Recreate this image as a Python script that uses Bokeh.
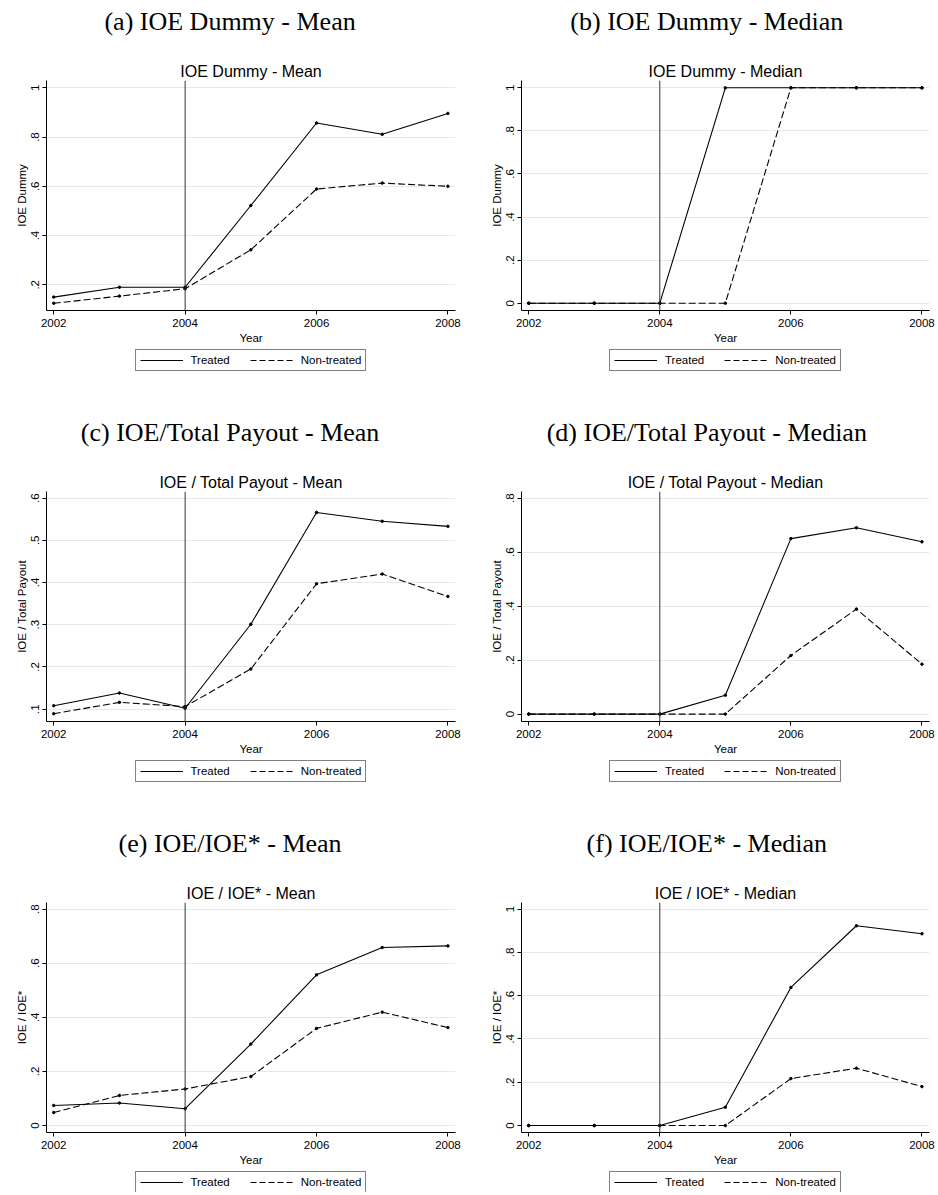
from bokeh.plotting import figure
from bokeh.layouts import row, column
from bokeh.models import Title, Legend, LegendItem, FixedTicker, Range1d, Span, Label
from bokeh.embed import file_html
from bokeh.resources import INLINE

# ---------------- data ----------------
years = [2002, 2003, 2004, 2005, 2006, 2007, 2008]
event_year = 2004
x_ticks = [2002, 2004, 2006, 2008]

captions = ["(a) IOE Dummy - Mean", "(b) IOE Dummy - Median",
            "(c) IOE/Total Payout - Mean", "(d) IOE/Total Payout - Median",
            "(e) IOE/IOE* - Mean", "(f) IOE/IOE* - Median"]
titles = ["IOE Dummy - Mean", "IOE Dummy - Median",
          "IOE / Total Payout - Mean", "IOE / Total Payout - Median",
          "IOE / IOE* - Mean", "IOE / IOE* - Median"]
ylabels = ["IOE Dummy", "IOE Dummy", "IOE / Total Payout", "IOE / Total Payout",
           "IOE / IOE*", "IOE / IOE*"]
series_names = ["Treated", "Non-treated"]

a_treated = [0.150, 0.190, 0.190, 0.522, 0.857, 0.811, 0.896]
a_non = [0.125, 0.154, 0.184, 0.342, 0.589, 0.613, 0.600]
b_treated = [0, 0, 0, 1, 1, 1, 1]
b_non = [0, 0, 0, 0, 1, 1, 1]
c_treated = [0.108, 0.138, 0.102, 0.301, 0.566, 0.545, 0.533]
c_non = [0.089, 0.116, 0.106, 0.195, 0.397, 0.420, 0.367]
d_treated = [0, 0, 0, 0.070, 0.650, 0.690, 0.638]
d_non = [0, 0, 0, 0, 0.217, 0.389, 0.185]
e_treated = [0.074, 0.083, 0.062, 0.301, 0.557, 0.658, 0.664]
e_non = [0.048, 0.111, 0.135, 0.181, 0.359, 0.419, 0.362]
f_treated = [0, 0, 0, 0.085, 0.638, 0.923, 0.886]
f_non = [0, 0, 0, 0, 0.217, 0.265, 0.180]

ticks_a = [0.2, 0.4, 0.6, 0.8, 1]
labels_a = [".2", ".4", ".6", ".8", "1"]
ticks_b = [0, 0.2, 0.4, 0.6, 0.8, 1]
labels_b = ["0", ".2", ".4", ".6", ".8", "1"]
ticks_c = [0.1, 0.2, 0.3, 0.4, 0.5, 0.6]
labels_c = [".1", ".2", ".3", ".4", ".5", ".6"]
ticks_d = [0, 0.2, 0.4, 0.6, 0.8]
labels_d = ["0", ".2", ".4", ".6", ".8"]

yr_a = (0.0956, 1.0296)
yr_b = (-0.034, 1.034)
yr_c = (0.0706, 0.6156)
yr_d = (-0.0274, 0.8244)
yr_e = (-0.0259, 0.8244)
yr_f = (-0.032, 1.0305)

SANS = "Liberation Sans"
SERIF = "Liberation Serif"
FS = "11.5px"

COL_W = 469
CAP_H = 46
TOP, FRAME_H, BOTTOM = 34, 230, 38
MAIN_H = TOP + FRAME_H + BOTTOM


def strip(height, left=0, right=0):
    s = figure(width=COL_W, height=height, output_backend="svg",
               toolbar_location=None, x_axis_location=None, y_axis_location=None,
               x_range=Range1d(0, COL_W - left - right), y_range=Range1d(0, height),
               min_border_left=left, min_border_right=right,
               min_border_top=0, min_border_bottom=0)
    s.outline_line_color = None
    s.xgrid.visible = False
    s.ygrid.visible = False
    s.background_fill_color = "white"
    s.border_fill_color = "white"
    return s


def panel(i, treated, non, yticks, ylabs, yr, left, right, cap_x, leg_h):
    # caption strip
    cap = strip(CAP_H)
    cap.add_layout(Label(x=cap_x, y=CAP_H - 21, text=captions[i],
                         text_font=SERIF, text_font_size="26px",
                         text_color="black", text_align="center",
                         text_baseline="middle"))

    # main plot
    p = figure(width=COL_W, height=MAIN_H, output_backend="svg",
               toolbar_location=None,
               x_range=Range1d(2001.89, 2008.115), y_range=Range1d(*yr),
               min_border_left=left, min_border_right=right,
               min_border_top=TOP, min_border_bottom=BOTTOM)
    p.outline_line_color = None
    p.background_fill_color = "white"
    p.border_fill_color = "white"

    p.add_layout(Title(text=titles[i], align="center", text_font=SANS,
                       text_font_size="16px", text_font_style="normal",
                       text_color="black", standoff=2), "above")

    p.xgrid.grid_line_color = None
    p.ygrid.ticker = FixedTicker(ticks=yticks)
    p.ygrid.grid_line_color = "#e8e8e8"
    p.ygrid.grid_line_width = 1

    p.xaxis.ticker = FixedTicker(ticks=x_ticks)
    p.yaxis.ticker = FixedTicker(ticks=yticks)
    p.yaxis.major_label_overrides = {t: l for t, l in zip(yticks, ylabs)}
    p.yaxis.major_label_orientation = "vertical"
    p.xaxis.axis_label = "Year"
    p.yaxis.axis_label = ylabels[i]
    for ax in (p.xaxis, p.yaxis):
        ax.axis_line_color = "black"
        ax.axis_line_width = 1
        ax.major_tick_line_color = "black"
        ax.major_tick_in = 0
        ax.major_tick_out = 4
        ax.minor_tick_line_color = None
        ax.major_label_text_font = SANS
        ax.major_label_text_font_size = FS
        ax.major_label_text_color = "black"
        ax.axis_label_text_font = SANS
        ax.axis_label_text_font_size = FS
        ax.axis_label_text_font_style = "normal"
        ax.axis_label_text_color = "black"
    p.xaxis.major_label_standoff = 4
    p.xaxis.axis_label_standoff = 2
    p.yaxis.major_label_standoff = 3
    p.yaxis.axis_label_standoff = 1

    p.add_layout(Span(location=event_year, dimension="height",
                      line_color="#333333", line_width=1))

    p.line(years, treated, line_color="black", line_width=1.1)
    p.scatter(years, treated, size=2.5, color="black")
    p.line(years, non, line_color="black", line_width=1.1, line_dash="7 3")
    p.scatter(years, non, size=2.5, color="black")

    # legend strip below the plot (same frame margins so it centres on the frame);
    # its series lie outside the strip's range, so only the legend keys show
    lg = strip(leg_h, left, right)
    r1 = lg.line(years, treated, line_color="black", line_width=1.1)
    r2 = lg.line(years, non, line_color="black", line_width=1.1, line_dash="6 3")
    leg = Legend(items=[LegendItem(label=series_names[0], renderers=[r1]),
                        LegendItem(label=series_names[1], renderers=[r2])],
                 orientation="horizontal", location="top_center",
                 border_line_color="black", border_line_width=1,
                 background_fill_color="white",
                 label_text_font=SANS, label_text_font_size=FS,
                 label_text_color="black",
                 glyph_width=43, glyph_height=12, label_height=12,
                 label_standoff=8, spacing=20, padding=4, margin=1)
    lg.add_layout(leg, "center")
    return column(cap, p, lg)


L1, R1 = 46, 14
L2, R2 = 52, 9
LEG_H = [63, 63, 22]
CAP_X = [210.5, 213]

pa = panel(0, a_treated, a_non, ticks_a, labels_a, yr_a, L1, R1, CAP_X[0], LEG_H[0])
pb = panel(1, b_treated, b_non, ticks_b, labels_b, yr_b, L2, R2, CAP_X[1], LEG_H[0])
pc = panel(2, c_treated, c_non, ticks_c, labels_c, yr_c, L1, R1, CAP_X[0], LEG_H[1])
pd = panel(3, d_treated, d_non, ticks_d, labels_d, yr_d, L2, R2, CAP_X[1], LEG_H[1])
pe = panel(4, e_treated, e_non, ticks_d, labels_d, yr_e, L1, R1, CAP_X[0], LEG_H[2])
pf = panel(5, f_treated, f_non, ticks_b, labels_b, yr_f, L2, R2, CAP_X[1], LEG_H[2])

layout = column(row(pa, pb), row(pc, pd), row(pe, pf))

open("out.html", "w").write(file_html(layout, INLINE))
